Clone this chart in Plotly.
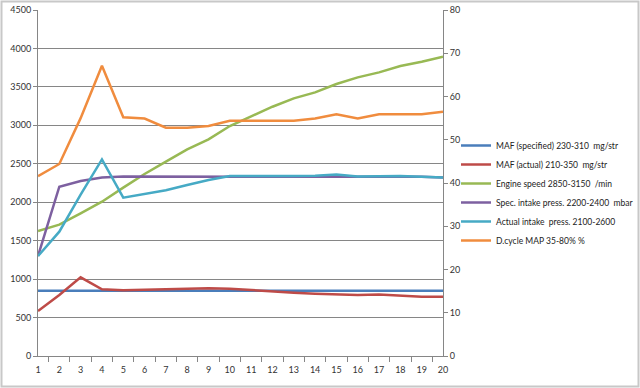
import plotly.graph_objects as go

categories = [str(i) for i in range(1, 21)]

maf_specified = [848] * 20
maf_actual = [585, 793, 1023, 867, 854, 860, 871, 871, 880, 876, 858, 836, 823, 810, 801, 793, 801, 784, 771, 771]
engine_speed = [1626, 1708, 1855, 2007, 2190, 2367, 2527, 2687, 2817, 2991, 3117, 3242, 3351, 3429, 3537, 3624, 3689, 3771, 3828, 3893]
spec_intake = [1300, 2202, 2276, 2320, 2333, 2333, 2333, 2333, 2333, 2333, 2333, 2333, 2333, 2333, 2333, 2333, 2333, 2333, 2330, 2320]
actual_intake = [1300, 1617, 2100, 2557, 2060, 2107, 2155, 2224, 2289, 2340, 2340, 2335, 2340, 2345, 2360, 2335, 2340, 2340, 2330, 2320]
dcycle_map = [41.6, 44.4, 55.0, 67.1, 55.2, 54.9, 52.8, 52.8, 53.2, 54.4, 54.4, 54.4, 54.4, 54.9, 55.9, 54.9, 55.9, 55.9, 55.9, 56.5]

names = [
    "MAF (specified) 230-310  mg/str",
    "MAF (actual) 210-350  mg/str",
    "Engine speed 2850-3150  /min",
    "Spec. intake press. 2200-2400  mbar",
    "Actual intake  press. 2100-2600",
    "D.cycle MAP 35-80% %",
]
colors = ["#4A7EBB", "#BE4B48", "#98B954", "#7D60A0", "#46AAC5", "#F08C3E"]

fig = go.Figure()
left_series = [maf_specified, maf_actual, engine_speed, spec_intake, actual_intake]
for vals, nm, c in zip(left_series, names[:5], colors[:5]):
    fig.add_trace(go.Scatter(x=categories, y=vals, name=nm, mode="lines",
                             line=dict(color=c, width=2.5)))
fig.add_trace(go.Scatter(x=categories, y=dcycle_map, name=names[5], mode="lines",
                         line=dict(color=colors[5], width=2.5), yaxis="y2"))

axis_col = "#868686"
fnt = dict(family="Lato, Open Sans, sans-serif", size=9, color="#333333")

W, H = 640, 388
L, R, T, B = 38, 197, 10, 32
pw, ph = W - L - R, H - T - B

fig.update_layout(
    width=W, height=H,
    margin=dict(l=L, r=R, t=T, b=B, autoexpand=False),
    paper_bgcolor="white", plot_bgcolor="white",
    font=fnt,
    showlegend=True,
    legend=dict(xref="container", yref="container",
                x=456 / W, xanchor="left", y=(H - 193) / H, yanchor="middle",
                font=dict(family="Lato, Open Sans, sans-serif", size=8.5, color="#222222"),
                bgcolor="rgba(0,0,0,0)", traceorder="normal"),
    xaxis=dict(type="category", tickson="boundaries", ticks="outside", ticklen=5,
               tickcolor=axis_col, showline=True, linecolor=axis_col, linewidth=1,
               showgrid=False, zeroline=False, tickfont=fnt, tickangle=0,
               ticklabelstandoff=5),
    yaxis=dict(range=[0, 4500], dtick=500, ticks="outside", ticklen=4, tickcolor=axis_col,
               showline=True, linecolor=axis_col, linewidth=1, showgrid=True,
               gridcolor=axis_col, gridwidth=1, zeroline=False, tickfont=fnt),
    yaxis2=dict(range=[0, 80], dtick=10, overlaying="y", side="right", ticks="outside",
                ticklen=4, tickcolor=axis_col, showline=True, linecolor=axis_col,
                linewidth=1, showgrid=False, zeroline=False, tickfont=fnt),
    shapes=[dict(type="rect", xref="paper", yref="paper",
                 x0=(1.5 - L) / pw, x1=(638.5 - L) / pw,
                 y0=(356 - 386.5) / ph, y1=(356 - 1.5) / ph,
                 line=dict(color="#C8C8C8", width=2), layer="below")],
)

fig.write_html("out.html", config={"displayModeBar": False},
               post_script="document.body.style.margin='0';")
